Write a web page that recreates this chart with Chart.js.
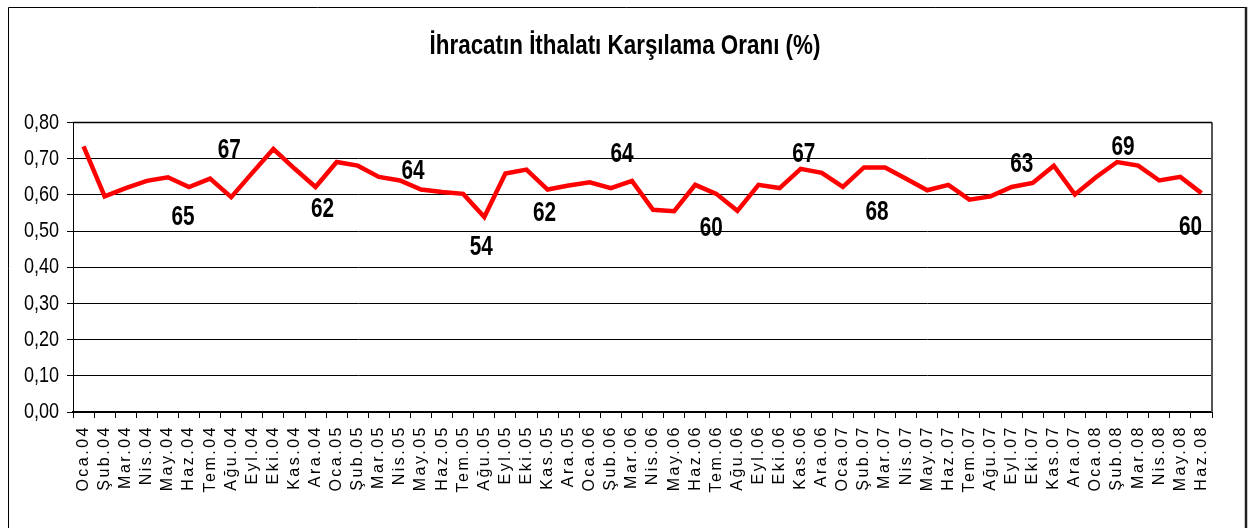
<!DOCTYPE html>
<html>
<head>
<meta charset="utf-8">
<script src="https://cdn.jsdelivr.net/npm/chart.js@4.4.1/dist/chart.umd.min.js"></script>
<style>
  html, body { margin: 0; padding: 0; background: #fff; }
  #wrap { width: 1250px; height: 528px; position: relative; }
</style>
</head>
<body>
<div id="wrap"><canvas id="c" width="1250" height="528"></canvas></div>
<script>
const categories = [
  "Oca.04","Şub.04","Mar.04","Nis.04","May.04","Haz.04","Tem.04","Ağu.04","Eyl.04","Eki.04","Kas.04","Ara.04",
  "Oca.05","Şub.05","Mar.05","Nis.05","May.05","Haz.05","Tem.05","Ağu.05","Eyl.05","Eki.05","Kas.05","Ara.05",
  "Oca.06","Şub.06","Mar.06","Nis.06","May.06","Haz.06","Tem.06","Ağu.06","Eyl.06","Eki.06","Kas.06","Ara.06",
  "Oca.07","Şub.07","Mar.07","Nis.07","May.07","Haz.07","Tem.07","Ağu.07","Eyl.07","Eki.07","Kas.07","Ara.07",
  "Oca.08","Şub.08","Mar.08","Nis.08","May.08","Haz.08"
];
const ratio = [
  0.734, 0.596, 0.619, 0.639, 0.649, 0.622, 0.645, 0.594, 0.661, 0.727, 0.673, 0.622,
  0.691, 0.681, 0.650, 0.640, 0.615, 0.608, 0.603, 0.539, 0.659, 0.670, 0.615, 0.626,
  0.635, 0.619, 0.639, 0.559, 0.555, 0.628, 0.603, 0.556, 0.628, 0.619, 0.672, 0.661,
  0.622, 0.676, 0.676, 0.645, 0.613, 0.628, 0.587, 0.596, 0.622, 0.633, 0.681, 0.601,
  0.649, 0.691, 0.681, 0.640, 0.650, 0.605
];
const yTicks = [0, 0.1, 0.2, 0.3, 0.4, 0.5, 0.6, 0.7, 0.8];
const labelIndex = [5, 7, 11, 16, 19, 22, 26, 30, 34, 38, 45, 49, 53];
const labelText  = ["65", "67", "62", "64", "54", "62", "64", "60", "67", "68", "63", "69", "60"];
const titleText = "İhracatın İthalatı Karşılama Oranı (%)";

const SANS = "'Liberation Sans', Arial, sans-serif";
const NARROW_X = 0.8;   // horizontal condensing to imitate Arial Narrow

// offsets (px) of the value labels relative to their anchor point
const labelOffsets = [
  [-6, 31], [-2, -47], [7, 23], [-8, -18], [-3, 31], [-3, 24], [-10, -26],
  [-5, 35], [3, -14], [-8, 45], [-11, -18], [6, -14], [-11, 34]
];

function wrapOnce(obj, name, key, wrapper) {
  if (!obj || obj[key]) return;
  const orig = obj[name].bind(obj);
  obj[name] = function (...args) { wrapper.call(this, orig, args); };
  obj[key] = true;
}

const framePlugin = {
  id: 'frame',
  beforeDraw(chart) {
    const ctx = chart.ctx;
    ctx.save();
    ctx.fillStyle = '#fff';
    ctx.fillRect(0, 0, chart.width, chart.height);
    ctx.strokeStyle = '#000';
    ctx.lineWidth = 1;
    ctx.beginPath();
    ctx.moveTo(8.5, 540); ctx.lineTo(8.5, 7.5); ctx.lineTo(1245, 7.5);
    ctx.stroke();
    ctx.strokeStyle = '#222';
    ctx.lineWidth = 2.5;
    ctx.beginPath();
    ctx.moveTo(1246, 7); ctx.lineTo(1246, 540);
    ctx.stroke();
    ctx.restore();

    // letter-spaced category labels
    wrapOnce(chart.scales.x, 'drawLabels', '__ls', function (orig, args) {
      const c = this.ctx;
      c.save();
      c.letterSpacing = '2.5px';
      orig(...args);
      c.restore();
    });
    // condensed value-axis labels, scaled about their right edge
    wrapOnce(chart.scales.y, 'drawLabels', '__ls', function (orig, args) {
      const c = this.ctx;
      const rx = this.right - this.options.grid.tickLength - this.options.ticks.padding;
      c.save();
      c.translate(rx, 0); c.scale(NARROW_X + 0.02, 1); c.translate(-rx, 0);
      orig(...args);
      c.restore();
    });
    // condensed title, scaled about the canvas centre
    wrapOnce(chart.titleBlock, 'draw', '__ls', function (orig, args) {
      const c = this.ctx;
      const cx = (this.left + this.right) / 2;
      c.save();
      c.translate(cx, 0); c.scale(NARROW_X, 1); c.translate(-cx, 0);
      orig(...args);
      c.restore();
    });
  },
  afterDatasetsDraw(chart) {
    const ctx = chart.ctx;
    const a = chart.chartArea;
    ctx.save();
    ctx.strokeStyle = '#555';
    ctx.lineWidth = 2;
    ctx.beginPath();
    ctx.moveTo(a.right, a.top); ctx.lineTo(a.right, a.bottom);
    ctx.stroke();
    ctx.strokeStyle = '#000';
    ctx.lineWidth = 1.5;
    ctx.beginPath();
    ctx.moveTo(a.left, a.top); ctx.lineTo(a.right, a.top);
    ctx.stroke();
    // value labels
    const meta = chart.getDatasetMeta(0);
    ctx.fillStyle = '#000';
    ctx.font = "bold 27px " + SANS;
    ctx.textAlign = 'center';
    ctx.textBaseline = 'middle';
    labelIndex.forEach((idx, k) => {
      const p = meta.data[idx];
      const off = labelOffsets[k];
      ctx.save();
      ctx.translate(p.x + off[0], p.y + off[1]);
      ctx.scale(0.77, 1);
      ctx.fillText(labelText[k], 0, 0);
      ctx.restore();
    });
    ctx.restore();
  }
};

new Chart(document.getElementById('c'), {
  type: 'line',
  data: {
    labels: categories,
    datasets: [{
      data: ratio,
      borderColor: '#ff0000',
      borderWidth: 4.5,
      pointRadius: 0,
      tension: 0,
      fill: false,
      yAxisID: 'y'
    }]
  },
  options: {
    responsive: false,
    animation: false,
    devicePixelRatio: 1,
    layout: { padding: 0 },
    plugins: {
      legend: { display: false },
      tooltip: { enabled: false },
      title: {
        display: true,
        text: titleText,
        color: '#000',
        font: { family: SANS, size: 28, weight: 'bold', lineHeight: 1.2 },
        padding: { top: 29, bottom: 60 }
      }
    },
    scales: {
      x: {
        type: 'category',
        offset: true,
        grid: { display: true, offset: true, drawOnChartArea: false, drawTicks: true, tickLength: 6, color: '#000', lineWidth: 1 },
        border: { display: true, color: '#000', width: 2 },
        ticks: {
          autoSkip: false, minRotation: 90, maxRotation: 90, padding: 7,
          color: '#000',
          font: { family: SANS, size: 16 }
        },
        afterFit(s) { s.height = 116; }
      },
      y: {
        position: 'left',
        min: 0, max: 0.8,
        afterBuildTicks(s) { s.ticks = yTicks.map(v => ({ value: v })); },
        grid: { color: '#000', lineWidth: 1, drawTicks: true, tickLength: 6 },
        border: { display: true, color: '#000', width: 1 },
        ticks: {
          padding: 8,
          color: '#000',
          font: { family: SANS, size: 22 },
          callback: v => v.toFixed(2).replace('.', ',')
        },
        afterFit(s) { s.width = 73; }
      },
      y2: {
        position: 'right',
        display: true,
        min: 0, max: 1,
        grid: { display: false, drawOnChartArea: false },
        border: { display: false },
        ticks: { display: false },
        afterFit(s) { s.width = 38; }
      }
    }
  },
  plugins: [framePlugin]
});
</script>
</body>
</html>
